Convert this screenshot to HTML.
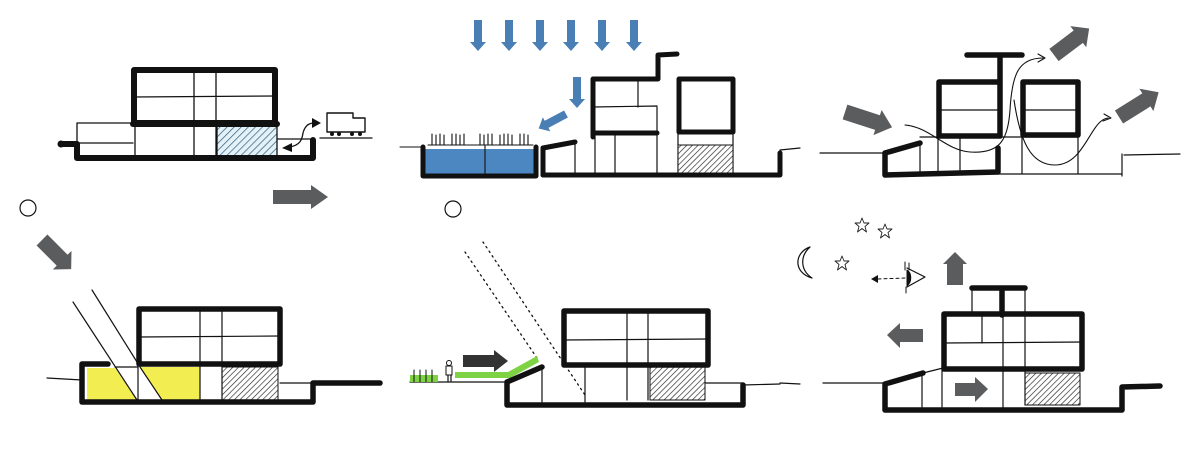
<!DOCTYPE html>
<html><head><meta charset="utf-8"><style>html,body{margin:0;padding:0;background:#fff}svg{display:block}</style></head>
<body>
<svg width="1200" height="450" viewBox="0 0 1200 450" xmlns="http://www.w3.org/2000/svg">
<defs>
<pattern id="hb" width="5" height="5" patternUnits="userSpaceOnUse" patternTransform="rotate(45)"><rect width="5" height="5" fill="#e4f2f8"/><line x1="0" y1="0" x2="0" y2="5" stroke="#2f5a78" stroke-width="1.4"/></pattern>
<pattern id="hk" width="4" height="4" patternUnits="userSpaceOnUse" patternTransform="rotate(45)"><rect width="4" height="4" fill="#fff"/><line x1="0" y1="0" x2="0" y2="4" stroke="#222" stroke-width="1.3"/></pattern>
<path id="ga" d="M0,-7 L38,-7 L38,-12 L55,0 L38,12 L38,7 L0,7Z" fill="#5a5c5e"/>
<path id="ba" d="M-4,0 L-4,22 L-8,22 L0,31 L8,22 L4,22 L4,0Z" fill="#4a7fb5"/>
<polygon id="st" points="0,-7 2,-2 7,-2 3,1.5 4.5,7 0,3.5 -4.5,7 -3,1.5 -7,-2 -2,-2" fill="none" stroke="#222" stroke-width="0.9"/>
</defs>
<g fill="none" stroke="#111" stroke-linecap="round" stroke-linejoin="round">

<!-- PANEL 1 -->
<rect x="217" y="124" width="60" height="33" fill="url(#hb)" stroke="none"/>
<g stroke-width="1.3">
<path d="M77,143 L77,123 L133,123 M77,143 L133,143 M135,123 L135,157 M194,68 L194,157 M216,68 L216,157 M133,97 L275,96 M277,139 L313,139 M320,138 L372,138"/>
<path d="M217,124 L217,157 L277,157 L277,124"/>
</g>
<g stroke-width="6">
<rect x="134" y="70" width="141" height="53"/>
<path d="M133,124 L277,124"/>
<path d="M62,144 L77,144 L77,158 L313,158 L313,140"/>
</g>
<circle cx="61" cy="144" r="3" fill="#111"/>
<g stroke-width="1.4"><path d="M327,113 L353,113 L353,118 L365,118 L365,132 L327,132Z" fill="#fff"/></g>
<circle cx="332" cy="134" r="2" fill="#111" stroke="none"/><circle cx="339" cy="134" r="2" fill="#111" stroke="none"/><circle cx="352" cy="134" r="2" fill="#111" stroke="none"/><circle cx="360" cy="134" r="2" fill="#111" stroke="none"/>
<path d="M290,147 C300,145 302,140 303,133 C305,125 310,123 314,123" stroke-width="1.3"/>
<polygon points="282,148 292,143 292,152" fill="#111" stroke="none"/>
<polygon points="321,123 312,118 312,128" fill="#111" stroke="none"/>
<use href="#ga" transform="translate(273,197)" stroke="none"/>

<!-- PANEL 2 -->
<g stroke="none">
<use href="#ba" transform="translate(478,20)"/><use href="#ba" transform="translate(509,20)"/><use href="#ba" transform="translate(540,20)"/><use href="#ba" transform="translate(571,20)"/><use href="#ba" transform="translate(602,20)"/><use href="#ba" transform="translate(634,20)"/>
<use href="#ba" transform="translate(577,77)"/>
<use href="#ba" transform="translate(566,114) rotate(62)"/>
</g>
<rect x="423" y="149" width="113" height="27" fill="#4d87c2" stroke="none"/>
<g stroke-width="1.1">
<path d="M400,147 L422,147 M428,145 L533,145 M485,145 L485,176"/>
<path d="M432,134 V145 M436,135 V145 M440,134 V145 M444,135 V145 M452,134 V145 M456,134 V145 M460,135 V145 M464,134 V145 M480,134 V145 M484,135 V145 M488,134 V145 M492,134 V145 M500,135 V145 M504,134 V145 M508,134 V145 M512,135 V145 M520,134 V145 M524,134 V145 M528,135 V145"/>
</g>
<g stroke-width="1.2">
<path d="M593,107 L657,106 M638,78 L638,107 M657,107 L657,175 M575,143 L575,175 M595,135 L595,175 M615,135 L615,175 M678,132 L678,175 M733,132 L733,173 M780,150 L800,148"/>
</g>
<rect x="678" y="145" width="55" height="28" fill="url(#hk)" stroke="#111" stroke-width="1"/>
<g stroke-width="5">
<path d="M423,147 L423,176 L536,176 L536,147"/>
<path d="M543,175 L543,148 L575,142"/>
<path d="M543,175 L780,175 L780,153"/>
<path d="M593,137 L593,79 L658,79 L658,55 L677,54"/>
<path d="M594,133 L657,133"/>
<rect x="679" y="79" width="54" height="53"/>
</g>

<!-- PANEL 3 -->
<g stroke-width="1.2">
<path d="M820,153 L885,153 M1124,155 L1180,154 M920,143 L920,173 M938,137 L938,173 M960,137 L960,173 M1022,135 L1022,174 M1078,135 L1078,174 M920,137 L1078,137 M998,174 L1122,174 M1122,154 L1122,176"/>
<path d="M940,110 L999,110 M1023,110 L1077,110"/>
<path d="M905,125 C930,127 945,150 970,152 C1000,154 1008,140 1010,110 C1012,75 1018,58 1043,58" stroke-width="1.1"/>
<path d="M1014,100 C1020,140 1030,165 1055,165 C1085,165 1090,120 1108,118" stroke-width="1.1"/>
<path d="M1038,54 L1045,58 L1038,62 M1104,114 L1111,118 L1103,121" stroke-width="1.1"/>
</g>
<g stroke-width="5.5">
<path d="M967,55 L1022,55 M1000,55 L1000,81"/>
<rect x="939" y="82" width="61" height="54"/>
<rect x="1023" y="82" width="55" height="53"/>
<path d="M920,143 L885,153 L885,175 L998,172 L998,148"/>
</g>
<g stroke="none">
<use href="#ga" transform="translate(845,112) rotate(18) scale(0.9,1.1)"/>
<use href="#ga" transform="translate(1054,55) rotate(-37) scale(0.8,1.1)"/>
<use href="#ga" transform="translate(1119,117) rotate(-32) scale(0.85,1.1)"/>
</g>

<!-- PANEL 4 -->
<circle cx="28" cy="208" r="8" stroke-width="1.2"/>
<use href="#ga" transform="translate(42,240) rotate(45) scale(0.75,1.1)" stroke="none"/>
<polygon points="87,368 115,368 137,400 87,400" fill="#f2ee52" stroke="none"/>
<polygon points="140,367 200,367 200,400 162,400" fill="#f2ee52" stroke="none"/>
<rect x="222" y="367" width="56" height="33" fill="url(#hk)" stroke="#111" stroke-width="1"/>
<g stroke-width="1.2">
<path d="M73,302 L137,400 M92,290 L137,362 M140,367 L162,400 M115,367 L138,367 M138,337 L280,336 M200,308 L200,400 M222,308 L222,400 M138,365 L138,400 M280,383 L313,383 M47,378 L82,380"/>
</g>
<g stroke-width="5.5">
<rect x="139" y="309" width="141" height="55"/>
<path d="M108,364 L82,364 L82,402 L313,402 L313,383 L380,383"/>
</g>

<!-- PANEL 5 -->
<circle cx="453" cy="209" r="8" stroke-width="1.2"/>
<g stroke-width="1.3" stroke-dasharray="1.5,4">
<path d="M465,252 L537,358 M483,242 L585,395"/>
</g>
<rect x="650" y="367" width="55" height="33" fill="url(#hk)" stroke="#111" stroke-width="1"/>
<g stroke-width="1.2">
<path d="M563,340 L708,339 M627,310 L627,400 M648,310 L648,400 M542,367 L542,402 M585,367 L585,402 M705,383 L743,383 M743,385 L780,384 M410,382 L505,382"/>
</g>
<g fill="#7ed344" stroke="none">
<rect x="410" y="375" width="28" height="7"/>
<rect x="455" y="372" width="55" height="6"/>
<polygon points="508,372 537,356 539,362 510,378"/>
</g>
<g stroke-width="1"><path d="M414,370 V382 M420,370 V382 M426,370 V382 M432,370 V382"/></g>
<circle cx="449" cy="363" r="2.5" stroke-width="1"/>
<rect x="446" y="366" width="6" height="9" stroke-width="1"/>
<path d="M448,375 V381 M451,375 V381" stroke-width="1.2"/>
<path d="M463,355 L494,355 L494,350 L508,361 L494,372 L494,367 L463,367Z" fill="#333" stroke="none"/>
<g stroke-width="5.5">
<rect x="564" y="311" width="144" height="54"/>
<path d="M542,367 L507,382 L507,405 L743,405 L743,385"/>
</g>

<!-- PANEL 6 -->
<path d="M810,247 C795,252 792,272 812,278 C800,270 800,256 810,247Z" stroke-width="1.2"/>
<use href="#st" transform="translate(862,225)"/><use href="#st" transform="translate(885,231)"/><use href="#st" transform="translate(842,263)"/>
<path d="M878,279 L905,278" stroke-width="1" stroke-dasharray="3,3"/>
<polygon points="871,279 878,275 878,283" fill="#111" stroke="none"/>
<path d="M907,268 L925,277 L907,287" stroke-width="1.2"/>
<path d="M907,270 C912,273 912,282 907,286Z" fill="#111" stroke-width="1"/>
<path d="M905,262 V270 M909,263 V270 M906,287 V293" stroke-width="1"/>
<rect x="1025" y="373" width="55" height="32" fill="url(#hk)" stroke="#111" stroke-width="1"/>
<g stroke-width="1.2">
<path d="M982,313 L982,343 M943,343 L1082,342 M1003,313 L1003,410 M1025,313 L1025,405 M1025,287 L1025,313 M972,287 L972,313 M922,374 L922,407 M942,368 L942,407 M780,383 L800,384 M823,383 L885,383 M923,373 L943,368"/>
</g>
<g stroke-width="5.5">
<path d="M972,288 L1025,288 M1002,288 L1002,315"/>
<rect x="944" y="314" width="138" height="55"/>
<path d="M923,373 L885,384 L885,410 L1122,410 L1122,387 L1160,386"/>
</g>
<g fill="#5a5c5e" stroke="none">
<polygon points="947,285 947,264 943,264 955,252 967,264 963,264 963,285"/>
<polygon points="923,329 923,342 900,342 900,348 887,335 900,323 900,329"/>
<polygon points="955,383 975,383 975,377 988,389 975,402 975,396 955,396"/>
</g>
</g>
</svg>
</body></html>
